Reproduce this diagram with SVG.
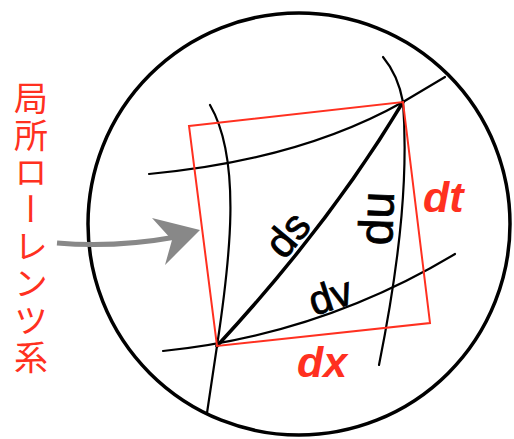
<svg xmlns="http://www.w3.org/2000/svg" width="514" height="439" viewBox="0 0 514 439">
<style>
.curve{fill:none;stroke:#000;stroke-width:2.2;stroke-linecap:round}
.lbl{font-family:"Liberation Sans",Arial,sans-serif;fill:#000;stroke:#000;stroke-width:0.8;text-anchor:middle}
.red{font-family:"Liberation Sans",Arial,sans-serif;fill:#ff3020;font-weight:bold;font-style:italic}
</style>
<rect width="514" height="439" fill="#fff"/>
<g id="sphere">
<circle cx="299" cy="224" r="211" fill="none" stroke="#000" stroke-width="3.5"/>
</g>
<g id="connectors">
<path class="curve" d="M149,174 Q300,160 403,102 L445,77"/>
<path class="curve" d="M163,351 Q320,335 455,254"/>
<path class="curve" d="M210,105 C242,160 230,260 217,346 L207,413"/>
<path class="curve" d="M383,57 Q398,75 403,102 C408,170 402,250 379,365"/>
<path d="M217,346 Q330,224 403,102" fill="none" stroke="#000" stroke-width="3.5" stroke-linecap="round"/>
<path d="M57,243 Q115,248 176,237" fill="none" stroke="#888" stroke-width="5"/>
<polygon points="200,230 152,218 172,240 165,265" fill="#888"/>
</g>
<g id="frame">
<polygon points="189,126 403,102 430,323 217,346" fill="none" stroke="#ff3020" stroke-width="2"/>
</g>
<g id="labels">
<text class="lbl" font-size="42" transform="translate(287,234) rotate(-50)" y="15">ds</text>
<text class="lbl" font-size="48" transform="translate(393,219) rotate(-88)" x="0" y="0">du</text>
<text class="lbl" font-size="41" transform="translate(330,295) rotate(-18)" y="15">dv</text>
<text class="red" font-size="43" x="423" y="212">dt</text>
<text class="red" font-size="43" x="297" y="377">dx</text>
</g>
<g id="title">
<text x="31" y="81" font-size="34" letter-spacing="3" writing-mode="vertical-rl" fill="#ff3020" font-family="'Noto Sans CJK JP',sans-serif">局所ローレンツ系</text>
</g>
</svg>
